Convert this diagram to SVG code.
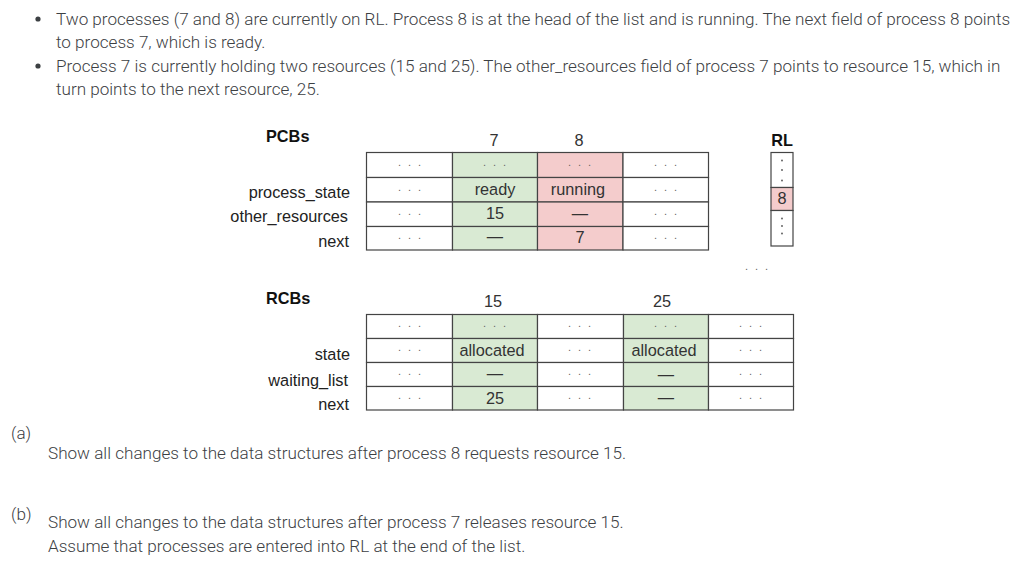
<svg xmlns="http://www.w3.org/2000/svg" width="1024" height="582" viewBox="0 0 1024 582">
<style>
.p{font-family:Roboto,"Liberation Sans",sans-serif;font-weight:300;font-size:17.1px;fill:#3c4043}
.lb{font-family:"Liberation Sans",Arial,sans-serif;font-size:16.3px;fill:#222}
.hd{font-family:"Liberation Sans",Arial,sans-serif;font-size:16.3px;font-weight:bold;fill:#111}
.c{font-family:"Liberation Sans",Arial,sans-serif;font-size:16.3px;fill:#333;text-anchor:middle}
.d{font-family:"Liberation Sans",Arial,sans-serif;font-size:11px;fill:#666;text-anchor:middle;letter-spacing:7px}
.cell{stroke:#444;stroke-width:1.2}
.w{fill:#fff}.g{fill:#d9ead3}.r{fill:#f4cccc}
</style>
<rect width="1024" height="582" fill="#fff"/>
<g id="intro">
<circle cx="38" cy="19" r="2.6" fill="#3c4043"/>
<text class="p" x="56" y="25">Two processes (7 and 8) are currently on RL. Process 8 is at the head of the list and is running. The next field of process 8 points</text>
<text class="p" x="56" y="48">to process 7, which is ready.</text>
<circle cx="38" cy="66" r="2.6" fill="#3c4043"/>
<text class="p" x="56" y="72">Process 7 is currently holding two resources (15 and 25). The other_resources field of process 7 points to resource 15, which in</text>
<text class="p" x="56" y="95">turn points to the next resource, 25.</text>
</g>
<g id="pcbs">
<text class="hd" x="266" y="142">PCBs</text>
<text class="c" x="494" y="146">7</text>
<text class="c" x="579" y="146">8</text>
<text class="lb" x="350" y="198" text-anchor="end">process_state</text>
<text class="lb" x="348" y="222" text-anchor="end">other_resources</text>
<text class="lb" x="349" y="247" text-anchor="end">next</text>
<g class="cell">
<rect class="w" x="366.5" y="152.5" width="86" height="25"/>
<rect class="w" x="366.5" y="177.5" width="86" height="24.5"/>
<rect class="w" x="366.5" y="202" width="86" height="24.5"/>
<rect class="w" x="366.5" y="226.5" width="86" height="23.5"/>
<rect class="g" x="452.5" y="152.5" width="85" height="25"/>
<rect class="g" x="452.5" y="177.5" width="85" height="24.5"/>
<rect class="g" x="452.5" y="202" width="85" height="24.5"/>
<rect class="g" x="452.5" y="226.5" width="85" height="23.5"/>
<rect class="r" x="537.5" y="152.5" width="85.5" height="25"/>
<rect class="r" x="537.5" y="177.5" width="85.5" height="24.5"/>
<rect class="r" x="537.5" y="202" width="85.5" height="24.5"/>
<rect class="r" x="537.5" y="226.5" width="85.5" height="23.5"/>
<rect class="w" x="623" y="152.5" width="85.5" height="25"/>
<rect class="w" x="623" y="177.5" width="85.5" height="24.5"/>
<rect class="w" x="623" y="202" width="85.5" height="24.5"/>
<rect class="w" x="623" y="226.5" width="85.5" height="23.5"/>
</g>
<text class="d" x="413" y="166">...</text>
<text class="d" x="413" y="191">...</text>
<text class="d" x="413" y="215">...</text>
<text class="d" x="413" y="239">...</text>
<text class="d" x="498" y="166">...</text>
<text class="c" x="495" y="195">ready</text>
<text class="c" x="495" y="219">15</text>
<text class="c" x="495" y="242">—</text>
<text class="d" x="583" y="166">...</text>
<text class="c" x="578" y="195">running</text>
<text class="c" x="580" y="219">—</text>
<text class="c" x="580" y="243">7</text>
<text class="d" x="669" y="166">...</text>
<text class="d" x="669" y="191">...</text>
<text class="d" x="669" y="215">...</text>
<text class="d" x="669" y="239">...</text>
</g>
<g id="rl">
<text class="hd" x="782" y="146" text-anchor="middle">RL</text>
<g class="cell">
<rect class="w" x="771" y="152.5" width="22" height="35"/>
<rect class="r" x="771" y="187.5" width="22" height="23"/>
<rect class="w" x="771" y="210.5" width="22" height="35.5"/>
</g>
<g fill="#555">
<circle cx="782" cy="160.5" r="0.9"/><circle cx="782" cy="170" r="0.9"/><circle cx="782" cy="180.5" r="0.9"/>
<circle cx="782" cy="218.5" r="0.9"/><circle cx="782" cy="226" r="0.9"/><circle cx="782" cy="233.5" r="0.9"/>
</g>
<text class="c" x="782" y="204">8</text>
<text class="d" x="760" y="270">...</text>
</g>
<g id="rcbs">
<text class="hd" x="266" y="304">RCBs</text>
<text class="c" x="493" y="307">15</text>
<text class="c" x="662" y="307">25</text>
<text class="lb" x="350" y="360" text-anchor="end">state</text>
<text class="lb" x="348" y="386" text-anchor="end">waiting_list</text>
<text class="lb" x="349" y="410" text-anchor="end">next</text>
<g class="cell">
<rect class="w" x="366.5" y="314.5" width="86" height="24"/>
<rect class="w" x="366.5" y="338.5" width="86" height="24"/>
<rect class="w" x="366.5" y="362.5" width="86" height="24"/>
<rect class="w" x="366.5" y="386.5" width="86" height="23.5"/>
<rect class="g" x="452.5" y="314.5" width="85" height="24"/>
<rect class="g" x="452.5" y="338.5" width="85" height="24"/>
<rect class="g" x="452.5" y="362.5" width="85" height="24"/>
<rect class="g" x="452.5" y="386.5" width="85" height="23.5"/>
<rect class="w" x="537.5" y="314.5" width="86" height="24"/>
<rect class="w" x="537.5" y="338.5" width="86" height="24"/>
<rect class="w" x="537.5" y="362.5" width="86" height="24"/>
<rect class="w" x="537.5" y="386.5" width="86" height="23.5"/>
<rect class="g" x="623.5" y="314.5" width="85" height="24"/>
<rect class="g" x="623.5" y="338.5" width="85" height="24"/>
<rect class="g" x="623.5" y="362.5" width="85" height="24"/>
<rect class="g" x="623.5" y="386.5" width="85" height="23.5"/>
<rect class="w" x="708.5" y="314.5" width="85" height="24"/>
<rect class="w" x="708.5" y="338.5" width="85" height="24"/>
<rect class="w" x="708.5" y="362.5" width="85" height="24"/>
<rect class="w" x="708.5" y="386.5" width="85" height="23.5"/>
</g>
<text class="d" x="413" y="327">...</text>
<text class="d" x="413" y="351">...</text>
<text class="d" x="413" y="375">...</text>
<text class="d" x="413" y="399">...</text>
<text class="d" x="498" y="327">...</text>
<text class="c" x="492" y="356">allocated</text>
<text class="c" x="495" y="379">—</text>
<text class="c" x="495" y="404">25</text>
<text class="d" x="583" y="327">...</text>
<text class="d" x="583" y="351">...</text>
<text class="d" x="583" y="375">...</text>
<text class="d" x="583" y="399">...</text>
<text class="d" x="669" y="327">...</text>
<text class="c" x="664" y="356">allocated</text>
<text class="c" x="666" y="380">—</text>
<text class="c" x="666" y="403">—</text>
<text class="d" x="754" y="327">...</text>
<text class="d" x="754" y="351">...</text>
<text class="d" x="754" y="375">...</text>
<text class="d" x="754" y="399">...</text>
</g>
<g id="questions">
<text class="p" x="11" y="439">(a)</text>
<text class="p" x="48" y="459">Show all changes to the data structures after process 8 requests resource 15.</text>
<text class="p" x="11" y="520">(b)</text>
<text class="p" x="48" y="528">Show all changes to the data structures after process 7 releases resource 15.</text>
<text class="p" x="48" y="552">Assume that processes are entered into RL at the end of the list.</text>
</g>
</svg>
